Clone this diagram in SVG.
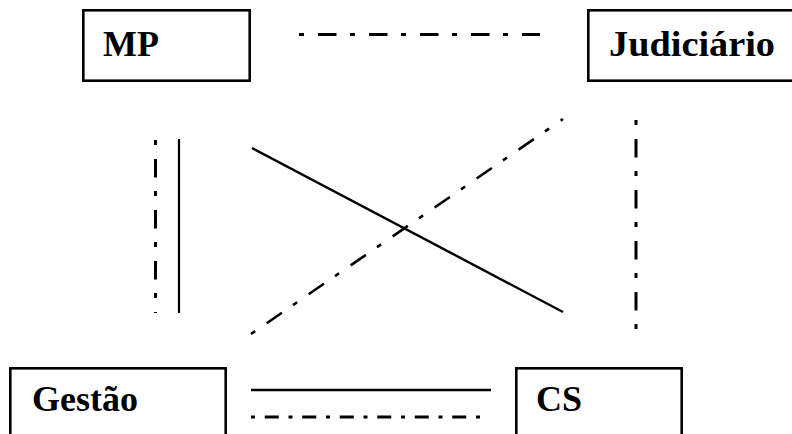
<svg xmlns="http://www.w3.org/2000/svg" width="792" height="434" viewBox="0 0 792 434">
<style>
.box{fill:#fff;stroke:#000;stroke-width:2.6}
.lbl{font-family:"Liberation Serif","Times New Roman",serif;font-weight:bold;font-size:36px;fill:#000}
.solid{stroke:#000;fill:none;stroke-linecap:butt}
.dd{stroke:#000;fill:none;stroke-linecap:butt;stroke-width:3;stroke-dasharray:5 14 18.5 13.5}
.dds{stroke:#000;fill:none;stroke-linecap:butt;stroke-width:3;stroke-dasharray:4 9.75 14 9.75}
</style>
<rect width="792" height="434" fill="#fff"/>
<g id="node-mp">
<rect class="box" x="83.3" y="10.3" width="166.4" height="70.4"/>
<text class="lbl" x="103" y="56">MP</text>
</g>
<g id="node-judiciario">
<rect class="box" x="588.3" y="10.3" width="230" height="70.4"/>
<text class="lbl" x="609" y="56" textLength="166" lengthAdjust="spacingAndGlyphs">Judiciário</text>
</g>
<g id="node-gestao">
<rect class="box" x="10.3" y="368.3" width="215.4" height="100"/>
<text class="lbl" x="32" y="411">Gestão</text>
</g>
<g id="node-cs">
<rect class="box" x="516.3" y="368.3" width="165.4" height="100"/>
<text class="lbl" x="536" y="411">CS</text>
</g>
<g id="connectors">
<line class="dd" x1="299" y1="34.5" x2="540" y2="34.5"/>
<line class="dd" x1="155.5" y1="140" x2="155.5" y2="313"/>
<line class="solid" stroke-width="2.2" x1="179" y1="139" x2="179" y2="313"/>
<line class="solid" stroke-width="2.4" x1="252" y1="148" x2="563" y2="312"/>
<line class="dd" style="stroke-width:2.6" x1="251" y1="334" x2="563" y2="119"/>
<line class="dd" x1="636" y1="120" x2="636" y2="329"/>
<line class="solid" stroke-width="2.6" x1="251" y1="390" x2="491" y2="390"/>
<line class="dds" x1="251" y1="417" x2="484" y2="417"/>
</g>
</svg>
